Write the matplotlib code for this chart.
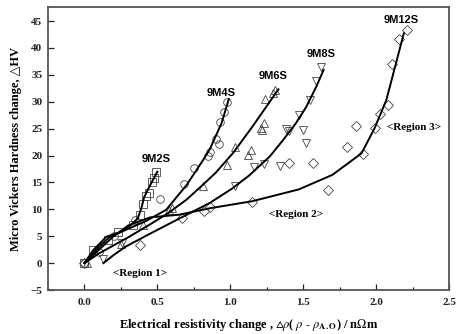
import matplotlib
matplotlib.use("Agg")
import matplotlib.pyplot as plt
from matplotlib.ticker import MultipleLocator

plt.rcParams['mathtext.fontset'] = 'stix'

# ---- scatter data (x: resistivity change, y: hardness change) ----
m2s_x = [0.00, 0.06, 0.16, 0.23, 0.33, 0.38, 0.40, 0.42, 0.44, 0.46, 0.48, 0.49]
m2s_y = [0.0, 2.4, 4.3, 5.8, 7.0, 8.9, 10.9, 12.5, 13.1, 15.0, 15.8, 17.0]

m4s_x = [0.00, 0.10, 0.20, 0.35, 0.52, 0.68, 0.75, 0.85, 0.86, 0.90, 0.92, 0.93, 0.96, 0.975]
m4s_y = [0.0, 2.0, 5.0, 8.0, 12.0, 14.7, 17.6, 19.9, 20.6, 23.1, 22.1, 26.2, 28.1, 29.9]

m6s_x = [0.02, 0.25, 0.40, 0.58, 0.60, 0.81, 0.98, 1.03, 1.12, 1.14, 1.21, 1.22, 1.23, 1.24, 1.29, 1.31]
m6s_y = [0.0, 3.6, 7.0, 9.8, 10.2, 14.4, 18.2, 21.6, 20.1, 21.1, 25.1, 24.7, 26.0, 30.5, 31.6, 32.2]

m8s_x = [0.13, 0.26, 1.03, 1.16, 1.23, 1.34, 1.38, 1.40, 1.47, 1.50, 1.52, 1.55, 1.59, 1.62]
m8s_y = [0.8, 3.8, 14.3, 17.8, 18.4, 18.0, 25.0, 24.5, 27.5, 24.7, 22.3, 30.3, 33.8, 36.5]

m12s_x = [0.00, 0.38, 0.67, 0.82, 0.86, 1.15, 1.40, 1.57, 1.67, 1.80, 1.86, 1.91, 1.99, 2.03, 2.08, 2.11, 2.16, 2.21]
m12s_y = [0.0, 3.4, 8.4, 9.6, 10.5, 11.4, 18.6, 18.7, 13.6, 21.5, 25.5, 20.3, 25.1, 27.8, 29.4, 37.1, 41.6, 43.3]

# ---- fitted curves ----
c2s_x = [0.00, 0.06, 0.15, 0.25, 0.32, 0.365, 0.39, 0.41, 0.445, 0.50]
c2s_y = [0.0, 2.4, 4.9, 5.8, 7.1, 8.3, 10.2, 12.3, 14.2, 17.0]

c4s_x = [0.00, 0.08, 0.17, 0.285, 0.42, 0.56, 0.70, 0.81, 0.86, 0.94, 0.99]
c4s_y = [0.0, 2.5, 4.8, 6.2, 7.8, 9.9, 14.5, 19.0, 21.2, 26.0, 30.5]

c6s_x = [0.00, 0.10, 0.20, 0.30, 0.45, 0.58, 0.70, 0.81, 0.90, 1.02, 1.15, 1.24, 1.33]
c6s_y = [0.0, 1.8, 3.3, 4.8, 7.2, 9.4, 11.8, 14.5, 16.8, 20.5, 25.3, 28.8, 32.3]

c8s_x = [0.13, 0.20, 0.285, 0.445, 0.63, 0.86, 1.01, 1.13, 1.27, 1.36, 1.45, 1.52, 1.59, 1.64]
c8s_y = [0.0, 1.5, 3.1, 5.4, 8.0, 11.2, 13.8, 16.3, 19.8, 22.8, 26.0, 29.0, 32.8, 35.9]

c12s_x = [0.00, 0.10, 0.20, 0.30, 0.45, 0.65, 0.86, 1.15, 1.47, 1.70, 1.84, 1.90, 1.99, 2.07, 2.13, 2.19]
c12s_y = [0.0, 2.5, 5.0, 7.0, 8.5, 9.0, 10.2, 11.5, 13.7, 16.4, 19.2, 20.4, 25.1, 30.3, 36.5, 42.7]

series_labels = ["9M2S", "9M4S", "9M6S", "9M8S", "9M12S"]
label_pos_x = [0.49, 0.94, 1.29, 1.62, 2.17]
label_pos_y = [19.4, 31.6, 34.8, 38.9, 45.2]

region_labels = ["<Region 1>", "<Region 2>", "<Region 3>"]
region_x = [0.38, 1.45, 2.26]
region_y = [-1.9, 9.1, 25.2]

fig = plt.figure(figsize=(4.62, 3.34), dpi=100)
ax = fig.add_axes([0.1039, 0.1317, 0.868, 0.8473])

mk = dict(linestyle='none', markerfacecolor='none', markeredgecolor='#444444',
          markeredgewidth=0.6, markersize=5.5)
ax.plot(m2s_x, m2s_y, marker='s', **mk)
ax.plot(m4s_x, m4s_y, marker='o', **mk)
ax.plot(m6s_x, m6s_y, marker='^', **mk)
ax.plot(m8s_x, m8s_y, marker='v', **mk)
ax.plot(m12s_x, m12s_y, marker='D', **{**mk, 'markersize': 5})

for cx, cy in [(c2s_x, c2s_y), (c4s_x, c4s_y), (c6s_x, c6s_y), (c8s_x, c8s_y), (c12s_x, c12s_y)]:
    ax.plot(cx, cy, color='black', lw=1.4, solid_joinstyle='round')

for lab, lx, ly in zip(series_labels, label_pos_x, label_pos_y):
    ax.text(lx, ly, lab, ha='center', va='center', fontsize=8, fontweight='bold',
            family=['Liberation Sans', 'DejaVu Sans'])

for lab, lx, ly in zip(region_labels, region_x, region_y):
    ax.text(lx, ly, lab, ha='center', va='center', fontsize=8, fontweight='bold',
            family=['Liberation Serif', 'DejaVu Serif'])

ax.set_xlim(-0.25, 2.5)
ax.set_ylim(-5, 47.6)
ax.xaxis.set_major_locator(MultipleLocator(0.5))
ax.xaxis.set_minor_locator(MultipleLocator(0.25))
ax.yaxis.set_major_locator(MultipleLocator(5))
ax.tick_params(axis='both', which='major', direction='in', length=4, width=0.9,
               labelsize=8, pad=6, colors='#222222')
ax.tick_params(axis='both', which='minor', direction='in', length=2.5, width=0.8)
ax.tick_params(axis='y', pad=4)
ax.set_xticks([0.0, 0.5, 1.0, 1.5, 2.0, 2.5])
ax.set_xticklabels(["0.0", "0.5", "1.0", "1.5", "2.0", "2.5"])
for t in ax.get_xticklabels() + ax.get_yticklabels():
    t.set_fontfamily(['Liberation Serif', 'DejaVu Serif'])
    t.set_fontweight('bold')

for s in ax.spines.values():
    s.set_color('#555555')
    s.set_linewidth(1.3)

ax.set_ylabel("Micro Vickers Hardness change, △HV", fontsize=9, fontweight='bold',
              family=['Liberation Serif', 'DejaVu Serif'], labelpad=6)
ax.set_xlabel(r"Electrical resistivity change , $\vartriangle\!\rho$( $\rho$ - $\rho_{\mathbf{A.O}}$) / n$\Omega$m",
              fontsize=9, fontweight='bold', family=['Liberation Serif', 'DejaVu Serif'],
              labelpad=7)

fig.savefig("out.png", dpi=100)
